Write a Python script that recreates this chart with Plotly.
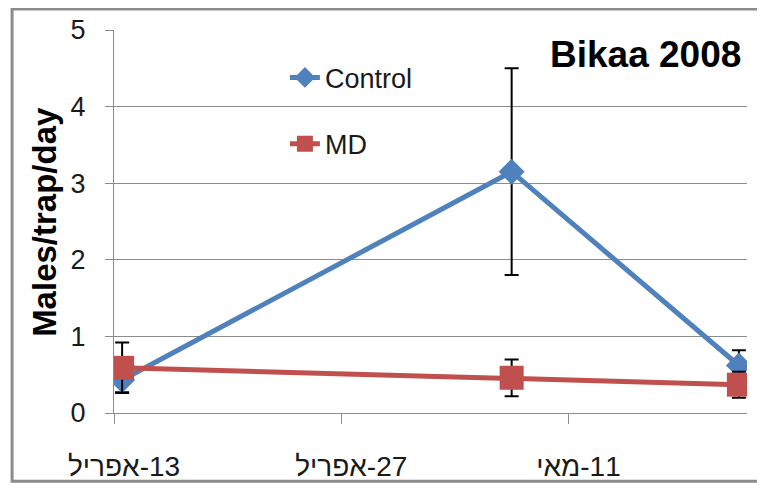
import pandas as pd
import plotly.graph_objects as go

# trap dates (Bikaa 2008)
dates = ["2008-04-13", "2008-05-07", "2008-05-21"]

control = [0.43, 3.15, 0.62]
control_err = [0.16, 1.35, 0.20]
md = [0.59, 0.46, 0.37]
md_err = [0.33, 0.24, 0.17]

tick_dates = ["2008-04-13", "2008-04-27", "2008-05-11"]
tick_labels = ["אפריל\u200e-13", "אפריל\u200e-27", "מאי\u200e-11"]

# excel-style date axis puts each point in the middle of its day
x = pd.to_datetime(dates) + pd.Timedelta(hours=12)

BLUE = "#4F81BD"
RED = "#C0504D"
GRAY = "#8C8C8C"
TICK_FONT = "Liberation Sans Narrow, Liberation Sans, Arial Narrow, sans-serif"
BOLD_FONT = "Liberation Sans, Arial, sans-serif"

fig = go.Figure()

fig.add_trace(go.Scatter(
    x=x, y=control, name="Control", mode="lines+markers",
    line=dict(color=BLUE, width=5),
    marker=dict(symbol="diamond", size=20, color=BLUE),
    error_y=dict(type="data", array=control_err, color="black", thickness=2, width=7),
    legend="legend",
))
fig.add_trace(go.Scatter(
    x=x, y=md, name="MD", mode="lines+markers",
    line=dict(color=RED, width=5),
    marker=dict(symbol="square", size=24, color=RED),
    error_y=dict(type="data", array=md_err, color="black", thickness=2, width=7),
    legend="legend2",
))

fig.update_xaxes(
    type="date", automargin=False,
    range=["2008-04-13", "2008-05-22"],
    tickvals=tick_dates, ticktext=tick_labels,
    ticks="outside", ticklen=10, tickcolor=GRAY, tickwidth=1,
    showline=True, linecolor=GRAY, linewidth=1,
    showgrid=False, zeroline=False,
    ticklabelstandoff=18, ticklabelshift=10,
    tickfont=dict(family=TICK_FONT, size=28, color="#1a1a1a"),
)
fig.update_yaxes(
    range=[0, 5], dtick=1, automargin=False,
    ticks="outside", ticklen=8, tickcolor=GRAY,
    showline=True, linecolor=GRAY, linewidth=1,
    showgrid=True, gridcolor=GRAY, gridwidth=1, zeroline=False,
    ticklabelstandoff=14,
    tickfont=dict(family=TICK_FONT, size=27, color="#1a1a1a"),
)

legend_style = dict(
    xanchor="left", yanchor="middle", bgcolor="rgba(0,0,0,0)",
    font=dict(family=BOLD_FONT, size=27, color="#1a1a1a"),
)
fig.update_layout(
    width=757, height=475,
    margin=dict(l=106, r=18, t=22, b=70, autoexpand=False),
    paper_bgcolor="white", plot_bgcolor="white",
    showlegend=True,
    legend=dict(x=0.27, y=0.875, **legend_style),
    legend2=dict(x=0.27, y=0.702, **legend_style),
    annotations=[
        dict(text="<b>Bikaa 2008</b>", xref="paper", yref="paper", x=0.994, y=0.935,
             xanchor="right", yanchor="middle", showarrow=False,
             font=dict(family=BOLD_FONT, size=37, color="black")),
        dict(text="<b>Males/trap/day</b>", xref="paper", yref="paper", x=-0.11, y=0.5,
             xanchor="center", yanchor="middle", textangle=-90, showarrow=False,
             font=dict(family=BOLD_FONT, size=33, color="black")),
    ],
    shapes=[
        dict(type="rect", xref="paper", yref="paper",
             x0=-0.161, x1=1.05, y0=-0.178, y1=1.055,
             line=dict(color=GRAY, width=3)),
    ],
)

fig.write_html("out.html")
